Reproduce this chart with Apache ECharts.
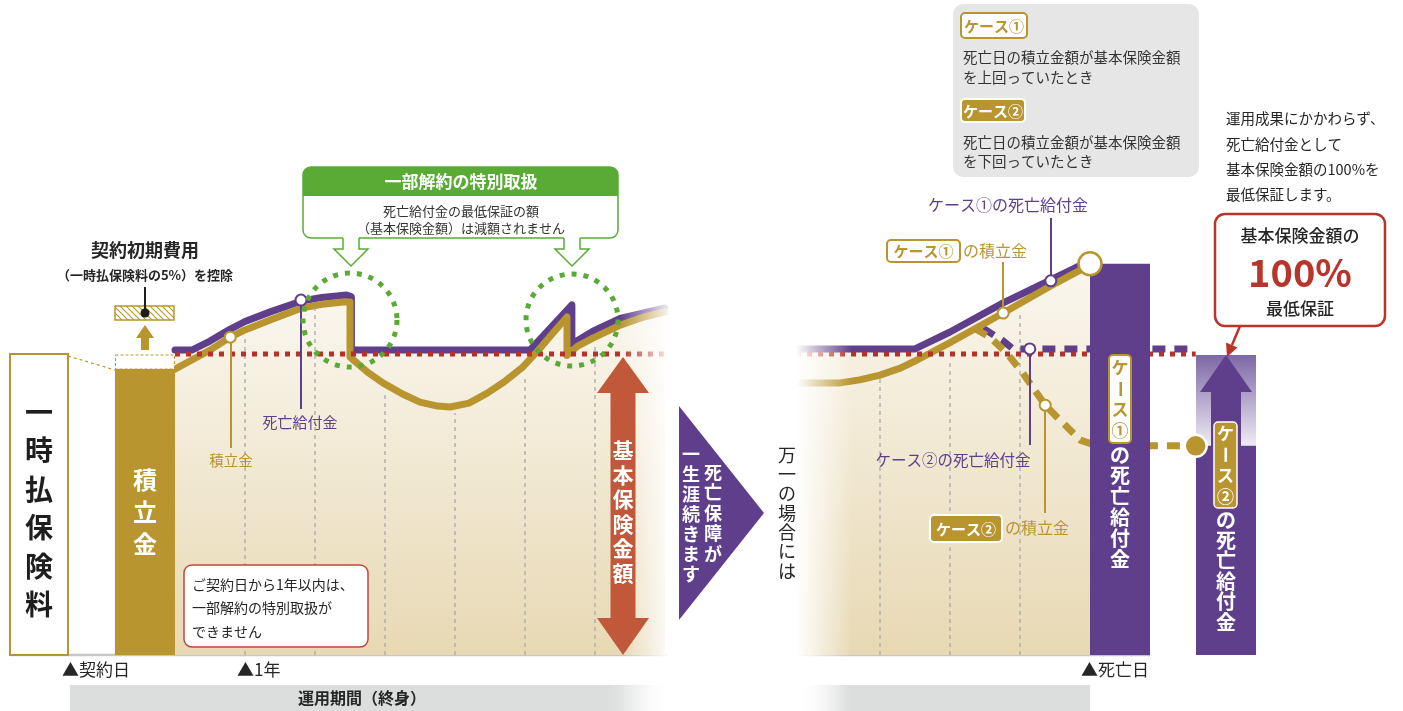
<!DOCTYPE html>
<html><head><meta charset="utf-8">
<script src="https://cdn.jsdelivr.net/npm/echarts@6/dist/echarts.min.js"></script>
<style>html,body{margin:0;padding:0;background:#fff}#c{width:1403px;height:711px}</style>
</head><body><div id="c"></div>
<script>
// ===== DATA (x = years, y = % of single premium) =====
const premium = 100;          // 一時払保険料
const initialAccum = 95;      // 積立金 after 5% initial fee
const basicAmount = 100;      // 基本保険金額
const contractYear = 0;
const deathYear = 4;

const accumLeft = [[0,95],[0.24,98],[0.5,101.3],[0.79,105.6],[1.0,108],[1.36,111.3],[1.81,115.3],[2.1,116.5],[2.4,117.3],[2.5,117.3],
  [2.5,99],[2.75,94],[2.97,90.4],[3.25,86.7],[3.5,84],[3.75,82.7],[3.93,82.4],[4.2,83.7],[4.46,87],[4.7,90.7],[4.97,95.7],[5.17,100.7],[5.4,107],[5.6,112.3],
  [5.6,99.5],[5.75,102.6],[5.97,105.3],[6.36,109.6],[6.7,112.3],[7,114]];
const benefitLeft = [[0,101.3],[0.24,101.3],[0.5,104.3],[0.79,108.3],[1.0,110.8],[1.36,114],[1.81,117.6],[2.1,118.8],[2.45,119.6],[2.52,119],
  [2.52,101.3],[5.07,101.3],[5.67,116.3],[5.67,103.3],[5.97,107.6],[6.36,111.8],[7,115.3]];
const gridYearsLeft = [1,2,3,4,5,6];
const gridTopsLeft = [105.6,116,87,80.4,92.4,103];

const accumCase1 = [[-0.2,90.4],[0.43,90.4],[0.71,91.4],[1.0,93],[1.29,95.3],[1.53,98],[2.0,103.8],[2.76,113.6],[3.43,122.5],[4.0,129.6]];
const benefitCase1 = [[-0.2,101.7],[1.5,101.7],[2.0,107.3],[2.76,117],[3.43,124.5],[4.0,131]];
const accumCase2 = [[2.36,108.4],[2.57,105.6],[2.81,100.3],[3.04,93.7],[3.36,83],[3.53,79],[3.86,71.4],[4.1,69.5],[5.51,69.5]];
const benefitCase2 = [[2.47,108.6],[2.76,104.3],[2.9,101.7],[5.51,101.7]];
const gridYearsRight = [1,2,3];
const gridTopsRight = [92,97,113];
const case1Benefit = 130;
const case2Accum = 69.5;

const ptsLeftAccum = [[0.79,105.6]];
const ptsLeftBenefit = [[1.8,117.9]];
const ptsCase1Accum = [[2.76,113.6]];
const ptsCase1Benefit = [[3.44,124.3]];
const ptsCase2Benefit = [[3.14,101.7]];
const ptsCase2Accum = [[3.36,83]];

// ===== STYLE =====
const FONT = '"Noto Sans CJK JP","Noto Sans",sans-serif';
const GOLD='#b8952f', PURPLE='#5f3f8b', RED='#b5312a', GREEN='#5aab36', ORANGE='#c1583a', TXT='#262626';
const LG = echarts.graphic.LinearGradient;
const areaFill = new LG(0,0,0,1,[{offset:0,color:'#faf7ef'},{offset:1,color:'#e8d9b4'}]);

function txt(x,y,str,size,color,weight,align,z){
  return {type:'text', x, y, z:z||20, style:{text:str, fill:color, font:`${weight||'normal'} ${size}px ${FONT}`, textAlign:align||'left', textVerticalAlign:'middle'}};
}
function vtext(cx,y0,str,size,color,weight,step,z){
  return {type:'group', z:z||20, children:[...str].map((ch,i)=>({
    type:'text', x:cx, y:y0+i*step, rotation: ch==='ー' ? -Math.PI/2 : 0, z:z||20,
    style:{text:ch, fill:color, font:`${weight} ${size}px ${FONT}`, textAlign:'center', textVerticalAlign:'middle'}}))};
}
function rect(x,y,w,h,r,fill,stroke,lw,z,dash){
  return {type:'rect', z:z||15, shape:{x,y,width:w,height:h,r:r||0}, style:{fill:fill||'none', stroke:stroke||null, lineWidth:lw||0, lineDash:dash||null}};
}
function line(x1,y1,x2,y2,color,lw,z,dash){
  return {type:'line', z:z||15, shape:{x1,y1,x2,y2}, style:{stroke:color, lineWidth:lw||1.5, lineDash:dash||null}};
}
function greenArrow(cx){
  return [
    {type:'polygon', z:16, shape:{points:[[cx-8,236],[cx+8,236],[cx+8,249],[cx+17,249],[cx,266],[cx-17,249],[cx-8,249]]}, style:{fill:'#fff'}},
    {type:'polyline', z:16, shape:{points:[[cx-8,238],[cx-8,249],[cx-17,249],[cx,266],[cx+17,249],[cx+8,249],[cx+8,238]]}, style:{stroke:GREEN, lineWidth:1.5, fill:null}}
  ];
}
// hatch pattern
const pc = document.createElement('canvas'); pc.width=6; pc.height=6;
(function(){const g=pc.getContext('2d'); g.fillStyle='#fff'; g.fillRect(0,0,6,6); g.strokeStyle=GOLD; g.lineWidth=1.1;
 g.beginPath(); g.moveTo(0,0); g.lineTo(6,6); g.moveTo(5,-1); g.lineTo(7,1); g.moveTo(-1,5); g.lineTo(1,7); g.stroke();})();

const graphics = [
  // axis base lines
  line(10,655,668,655,'#c6c6c6',2.5,1),
  line(796,655,1150,655,'#c6c6c6',2.5,1),
  // fades
  {type:'rect', z:6, shape:{x:620,y:240,width:54,height:471}, style:{fill:new LG(0,0,1,0,[{offset:0,color:'rgba(255,255,255,0)'},{offset:1,color:'#fff'}])}},
  {type:'rect', z:6, shape:{x:786,y:300,width:66,height:411}, style:{fill:new LG(0,0,1,0,[{offset:0,color:'#fff'},{offset:0.15,color:'#fff'},{offset:1,color:'rgba(255,255,255,0)'}])}},
  // grey period bars
  {type:'rect', z:1, shape:{x:70,y:685,width:600,height:26}, style:{fill:new LG(0,0,1,0,[{offset:0,color:'#dcdddd'},{offset:0.9,color:'#dcdddd'},{offset:1,color:'rgba(220,221,221,0)'}])}},
  {type:'rect', z:1, shape:{x:796,y:685,width:294,height:26}, style:{fill:new LG(0,0,1,0,[{offset:0,color:'rgba(220,221,221,0)'},{offset:0.17,color:'#dcdddd'},{offset:1,color:'#dcdddd'}])}},
  txt(362,698,'運用期間（終身）',16,TXT,'bold','center'),
  txt(62,670,'▲契約日',17,TXT,'normal'),
  txt(237,670,'▲1年',17,TXT,'normal'),
  txt(1081,670,'▲死亡日',17,TXT,'normal'),

  // premium box text
  vtext(39,412,'一時払保険料',28,'#1e1e1e','bold',38.5),
  line(68,356,115,370,GOLD,1.2,15,[3,3]),
  // initial fee
  rect(115,306,59,14,0,{image:pc, repeat:'repeat'},GOLD,1.5,15),
  {type:'polygon', z:15, shape:{points:[[141,350],[149,350],[149,338],[154,338],[145,325],[136,338],[141,338]]}, style:{fill:GOLD}},
  line(145,287,145,313,'#1e1e1e',2,16),
  {type:'circle', z:16, shape:{cx:145,cy:313,r:4.5}, style:{fill:'#1e1e1e'}},
  txt(145,250,'契約初期費用',18,TXT,'bold','center'),
  txt(145,275,'（一時払保険料の5%）を控除',13,TXT,'bold','center'),
  vtext(145,480,'積立金',24,'#fff','bold',32),

  // left labels
  line(231,342,231,448,GOLD,2,7),
  txt(231,460,'積立金',14.5,GOLD,'normal','center'),
  line(301,305,301,409,PURPLE,2,7),
  txt(300,422,'死亡給付金',15,PURPLE,'normal','center'),

  // green callout
  rect(303,167,315,71,8,'#fff',GREEN,1.5,15),
  {type:'rect', z:15, shape:{x:303,y:167,width:315,height:29,r:[8,8,0,0]}, style:{fill:GREEN}},
  txt(461,182,'一部解約の特別取扱',17,'#fff','bold','center'),
  txt(461,211,'死亡給付金の最低保証の額',13,'#333','normal','center'),
  txt(461,228,'（基本保険金額）は減額されません',13,'#333','normal','center'),
  ...greenArrow(351), ...greenArrow(572),
  {type:'circle', z:12, shape:{cx:350,cy:320,r:47}, style:{fill:null, stroke:GREEN, lineWidth:5, lineDash:[5,7]}},
  {type:'circle', z:12, shape:{cx:572,cy:320,r:46}, style:{fill:null, stroke:GREEN, lineWidth:5, lineDash:[5,7]}},

  // red note
  rect(184,565,184,82,8,'#fff','#c4463b',1.5,15),
  txt(192,585,'ご契約日から1年以内は、',14,TXT),
  txt(192,608,'一部解約の特別取扱が',14,TXT),
  txt(192,632,'できません',14,TXT),

  // basic amount arrow text
  vtext(623,450,'基本保険金額',21,'#fff','bold',24.6),

  // purple triangle
  {type:'polygon', z:15, shape:{points:[[679,406],[679,620],[764,513]]}, style:{fill:PURPLE}},
  vtext(713,472,'死亡保障が',18,'#fff','bold',20.5),
  vtext(691,454,'一生涯続きます',18,'#fff','bold',20),
  vtext(787,455,'万一の場合には',18,TXT,'normal',19.3),

  // top-right case box
  rect(953,4,246,173,10,'#e6e6e6',null,0,10),
  rect(961,13,66,25,4,'#fff',GOLD,2,15),
  txt(994,26,'ケース①',15,GOLD,'bold','center'),
  txt(963,57,'死亡日の積立金額が基本保険金額',14.5,'#333'),
  txt(963,77,'を上回っていたとき',14.5,'#333'),
  rect(961,99,64,23,4,GOLD,'#fff',2,15),
  txt(993,111,'ケース②',15,'#fff','bold','center'),
  txt(963,142,'死亡日の積立金額が基本保険金額',14.5,'#333'),
  txt(963,161,'を下回っていたとき',14.5,'#333'),

  txt(1226,118,'運用成果にかかわらず、',14.5,TXT),
  txt(1226,144,'死亡給付金として',14.5,TXT),
  txt(1226,169,'基本保険金額の100%を',14.5,TXT),
  txt(1226,194,'最低保証します。',14.5,TXT),

  // red callout
  rect(1215,214,170,112,10,'#fff','#b8352b',2.5,15),
  txt(1300,236,'基本保険金額の',17,TXT,'500','center'),
  txt(1300,273,'100%',38,'#b8352b','bold','center'),
  txt(1300,309,'最低保証',17,TXT,'500','center'),
  line(1240,326,1232,345,'#b8352b',2.5,15),
  {type:'polygon', z:15, shape:{points:[[1227,357],[1237.5,347.4],[1226,342.6]]}, style:{fill:'#b8352b'}},

  // right panel labels
  txt(1008,205,'ケース①の死亡給付金',16,PURPLE,'normal','center'),
  line(1051,218,1051,278,PURPLE,2,7),
  rect(887,240,73,22,4,'#fff',GOLD,2,15),
  txt(923.5,251.5,'ケース①',15,GOLD,'bold','center'),
  txt(963,251,'の積立金',16,GOLD,'normal'),
  line(1003,262,1003,309,GOLD,2,7),
  txt(953,460,'ケース②の死亡給付金',15.5,PURPLE,'normal','center'),
  line(1030,355,1030,445,PURPLE,2,7),
  rect(930,515,72,27,4,GOLD,'#fff',2,15),
  txt(966,529,'ケース②',15,'#fff','bold','center'),
  txt(1005,528,'の積立金',16,GOLD,'normal'),
  line(1045,411,1045,513,GOLD,2,7),

  // bar texts
  rect(1109,355,22,88,4,'#fff',GOLD,2,21),
  vtext(1120,368,'ケース①',17,GOLD,'bold',21,22),
  vtext(1120,455,'の死亡給付金',20,'#fff','bold',20.8,22),
  rect(1214,422,23,86,4,GOLD,'#fff',1.5,21),
  vtext(1225.5,434,'ケース②',17,'#fff','bold',20.7,22),
  vtext(1226,520,'の死亡給付金',20,'#fff','bold',20.4,22)
];

function gridLineItem(params, api){
  const x = api.value(0), top = api.value(1);
  const a = api.coord([x,0]), b = api.coord([x,top]);
  return {type:'line', shape:{x1:a[0],y1:a[1],x2:b[0],y2:b[1]}, style:{stroke:'#a9a9a9', lineWidth:1.3, lineDash:[4,4]}};
}
const lineBase = {type:'line', showSymbol:false, symbol:'none', animation:false, silent:true};
function ptSeries(data, color, xi, size){
  return {type:'scatter', xAxisIndex:xi, yAxisIndex:xi, data, symbolSize:size||11, z:8, animation:false, silent:true,
    itemStyle:{color:'#fff', borderColor:color, borderWidth:2, opacity:1}};
}

const option = {
  animation:false,
  grid:[
    {left:0, top:53, width:665, height:602},
    {left:796, top:53, width:504, height:602}
  ],
  xAxis:[
    {type:'value', gridIndex:0, min:-2.5, max:7, show:false},
    {type:'value', gridIndex:1, min:-0.2, max:7, show:false}
  ],
  yAxis:[
    {type:'value', gridIndex:0, min:0, max:200, show:false},
    {type:'value', gridIndex:1, min:0, max:200, show:false}
  ],
  graphic:{elements:graphics},
  series:[
    // ---- left panel ----
    Object.assign({}, lineBase, {xAxisIndex:0, yAxisIndex:0, z:2, data:benefitLeft,
      lineStyle:{color:PURPLE, width:7, join:'round', cap:'round'}, areaStyle:{color:areaFill, opacity:1}}),
    {type:'custom', xAxisIndex:0, yAxisIndex:0, z:3, silent:true, renderItem:gridLineItem,
      data:gridYearsLeft.map((x,i)=>[x,gridTopsLeft[i]])},
    Object.assign({}, lineBase, {xAxisIndex:0, yAxisIndex:0, z:4, data:accumLeft,
      lineStyle:{color:GOLD, width:7, join:'round', cap:'round'}}),
    Object.assign({}, lineBase, {xAxisIndex:0, yAxisIndex:0, z:5, data:[[contractYear,basicAmount],[7,basicAmount]],
      lineStyle:{color:RED, width:5, type:[5,6], cap:'butt'}}),
    // premium box + initial accumulation
    {type:'custom', xAxisIndex:0, yAxisIndex:0, z:5, silent:true, data:[[contractYear, premium, initialAccum]],
      renderItem(params, api){
        const x0 = api.coord([api.value(0),0]);
        const yP = api.coord([api.value(0),api.value(1)])[1];
        const yA = api.coord([api.value(0),api.value(2)])[1];
        const base = x0[1];
        return {type:'group', children:[
          {type:'rect', shape:{x:x0[0]-165, y:yP, width:58, height:base-yP}, style:{fill:'#fff', stroke:GOLD, lineWidth:2}},
          {type:'rect', shape:{x:x0[0]-60, y:yA, width:60, height:base-yA}, style:{fill:GOLD}},
          {type:'rect', shape:{x:x0[0]-59.5, y:yP+1, width:59, height:yA-yP-1}, style:{fill:'#fff', stroke:GOLD, lineWidth:1, lineDash:[3,2]}}
        ]};
      }},
    // basic amount double arrow
    {type:'custom', xAxisIndex:0, yAxisIndex:0, z:7, silent:true, data:[[6.4, 0, basicAmount]],
      renderItem(params, api){
        const b = api.coord([api.value(0),api.value(1)]);
        const t = api.coord([api.value(0),api.value(2)]);
        const cx=b[0], yt=t[1]+3, yb=b[1];
        return {type:'polygon', shape:{points:[[cx,yt],[cx+26,yt+36],[cx+12.5,yt+36],[cx+12.5,yb-37],[cx+26,yb-37],[cx,yb],[cx-26,yb-37],[cx-12.5,yb-37],[cx-12.5,yt+36],[cx-26,yt+36]]},
          style:{fill:ORANGE}};
      }},
    ptSeries(ptsLeftAccum, GOLD, 0),
    ptSeries(ptsLeftBenefit, PURPLE, 0),

    // ---- right panel ----
    Object.assign({}, lineBase, {xAxisIndex:1, yAxisIndex:1, z:2, data:benefitCase1,
      lineStyle:{color:PURPLE, width:7, join:'round', cap:'round'}, areaStyle:{color:areaFill, opacity:1}}),
    {type:'custom', xAxisIndex:1, yAxisIndex:1, z:3, silent:true, renderItem:gridLineItem,
      data:gridYearsRight.map((x,i)=>[x,gridTopsRight[i]])},
    Object.assign({}, lineBase, {xAxisIndex:1, yAxisIndex:1, z:4, data:benefitCase2,
      lineStyle:{color:PURPLE, width:7, type:[13,9], cap:'butt'}}),
    Object.assign({}, lineBase, {xAxisIndex:1, yAxisIndex:1, z:4, data:accumCase2,
      lineStyle:{color:GOLD, width:7, type:[13,9], cap:'butt'}}),
    Object.assign({}, lineBase, {xAxisIndex:1, yAxisIndex:1, z:4, data:accumCase1,
      lineStyle:{color:GOLD, width:7, join:'round', cap:'round'}}),
    Object.assign({}, lineBase, {xAxisIndex:1, yAxisIndex:1, z:5, data:[[-0.2,basicAmount],[5.51,basicAmount]],
      lineStyle:{color:RED, width:5, type:[5,6], cap:'butt'}}),
    // case bars
    {type:'custom', xAxisIndex:1, yAxisIndex:1, z:6, silent:true, data:[[deathYear, case1Benefit, case2Accum, basicAmount]],
      renderItem(params, api){
        const d = api.coord([api.value(0),0]);
        const x = d[0], base = d[1];
        const y1 = api.coord([api.value(0),api.value(1)])[1];
        const y2 = api.coord([api.value(0),api.value(2)])[1];
        const yB = api.coord([api.value(0),api.value(3)])[1];
        const x2 = x+106, cx = x2+30;
        return {type:'group', children:[
          {type:'rect', shape:{x:x, y:y1, width:60, height:base-y1}, style:{fill:PURPLE}},
          {type:'rect', shape:{x:x2, y:yB+1, width:60, height:y2-yB-1}, style:{fill:new LG(0,0,0,1,[{offset:0,color:'#7d68a6'},{offset:1,color:'#efebf4'}])}},
          {type:'rect', shape:{x:x2, y:y2, width:60, height:base-y2}, style:{fill:PURPLE}},
          {type:'polygon', shape:{points:[[cx,yB+1],[cx+26,yB+38],[cx+15,yB+38],[cx+15,y2+1],[cx-15,y2+1],[cx-15,yB+38],[cx-26,yB+38]]}, style:{fill:PURPLE}}
        ]};
      }},
    {type:'scatter', xAxisIndex:1, yAxisIndex:1, z:8, silent:true, animation:false, data:[[deathYear, case1Benefit]], symbolSize:23,
      itemStyle:{color:'#fff', borderColor:GOLD, borderWidth:2.5, opacity:1}},
    {type:'scatter', xAxisIndex:1, yAxisIndex:1, z:8, silent:true, animation:false, data:[[5.51, case2Accum]], symbolSize:22,
      itemStyle:{color:GOLD, borderColor:'#fff', borderWidth:2.5, opacity:1}},
    ptSeries(ptsCase1Accum, GOLD, 1),
    ptSeries(ptsCase1Benefit, PURPLE, 1),
    ptSeries(ptsCase2Benefit, PURPLE, 1),
    ptSeries(ptsCase2Accum, GOLD, 1)
  ]
};
const chart = echarts.init(document.getElementById('c'));
chart.setOption(option);
</script>
</body></html>
